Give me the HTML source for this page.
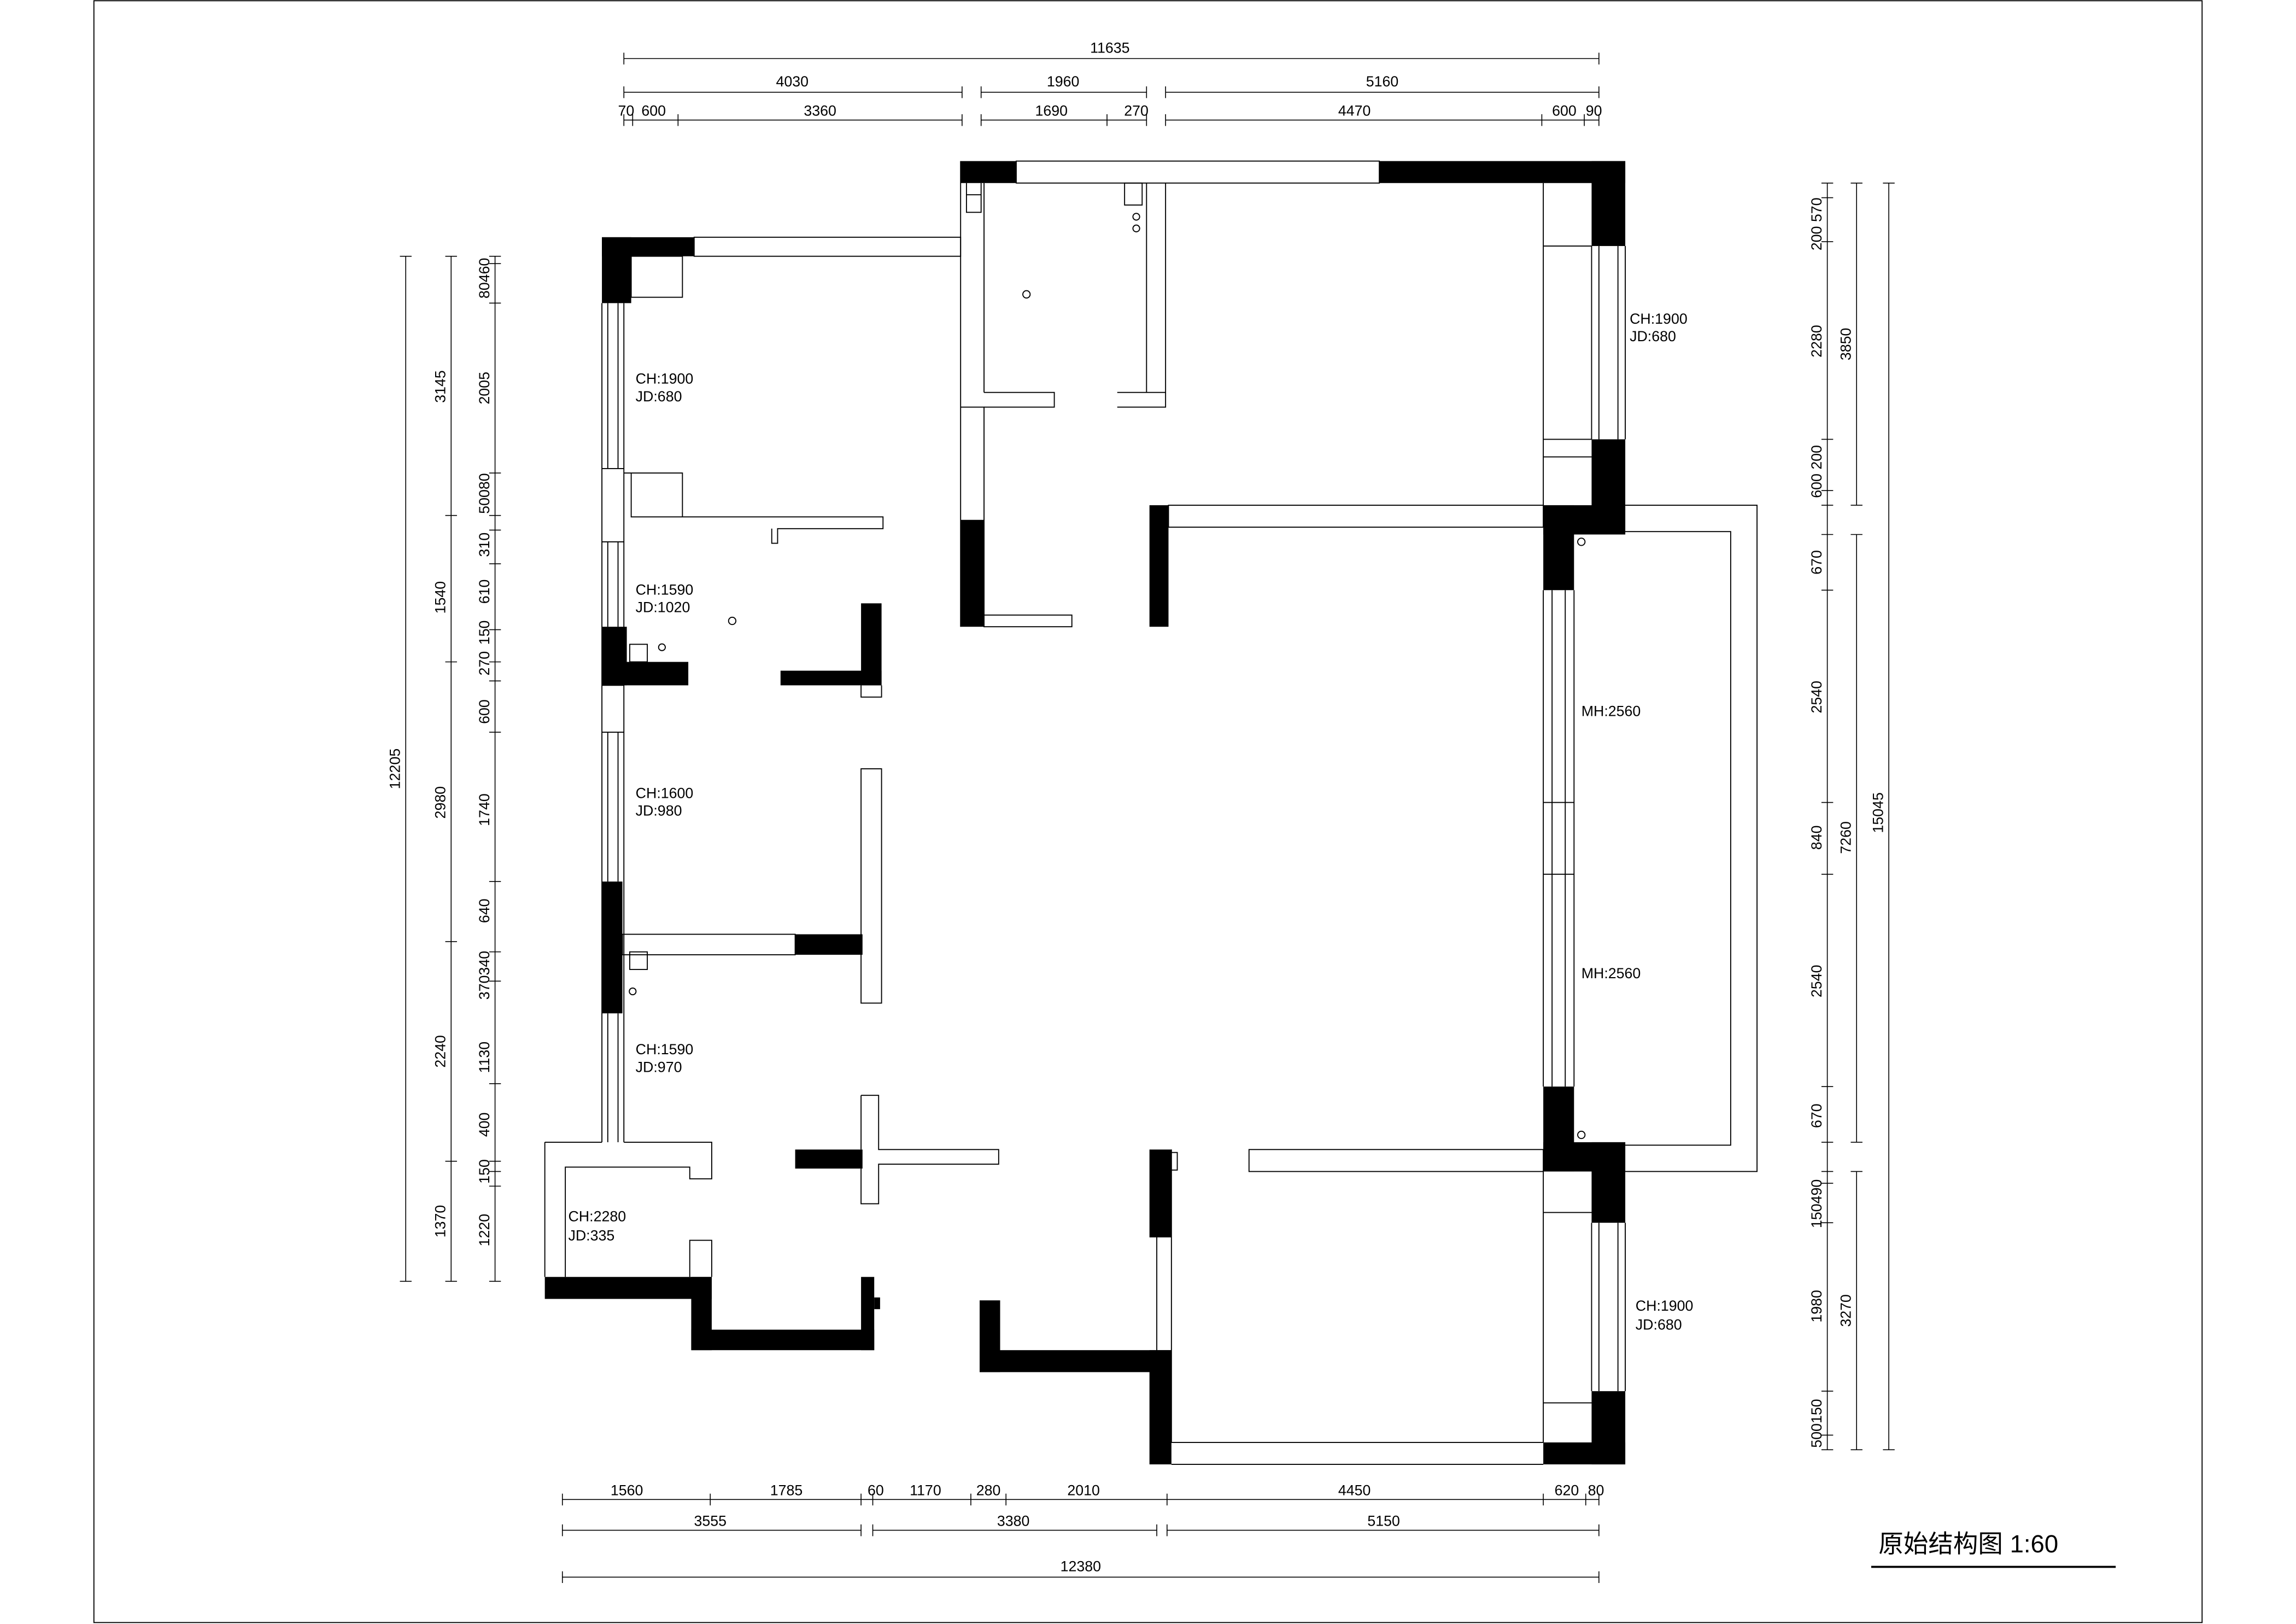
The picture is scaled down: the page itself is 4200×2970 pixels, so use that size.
<!DOCTYPE html>
<html><head><meta charset="utf-8"><style>
html,body{margin:0;padding:0;background:#fff;}
svg{display:block;}
text{font-family:"Liberation Sans","Noto Sans CJK SC",sans-serif;fill:#000;}
</style></head><body>
<svg width="4200" height="2970" viewBox="0 0 1568 1109" xmlns="http://www.w3.org/2000/svg">
<g fill="none" stroke="#000" stroke-width="0.7">
<rect x="64" y="0.5" width="1440" height="1107.5"/>
<line x1="1278" y1="1070" x2="1445" y2="1070" stroke-width="1.4"/>
</g>
<text x="1283" y="1060" font-size="17" font-family="Liberation Serif,Noto Serif CJK SC,serif">原始结构图  1:60</text>

<g stroke="#000" stroke-width="0.6" fill="none">
<line x1="426" y1="40" x2="1092" y2="40"/>
<line x1="426" y1="63" x2="657" y2="63"/><line x1="670" y1="63" x2="783" y2="63"/><line x1="796" y1="63" x2="1092" y2="63"/>
<line x1="426" y1="82" x2="657" y2="82"/><line x1="670" y1="82" x2="783" y2="82"/><line x1="796" y1="82" x2="1092" y2="82"/>
<path d="M426 36v8M1092 36v8M426 59v8M657 59v8M670 59v8M783 59v8M796 59v8M1092 59v8M426 78v8M432 78v8M463 78v8M657 78v8M670 78v8M756 78v8M783 78v8M796 78v8M1053 78v8M1082 78v8M1092 78v8"/>
<line x1="384" y1="1024" x2="1092" y2="1024"/>
<line x1="384" y1="1045" x2="588" y2="1045"/><line x1="596" y1="1045" x2="790" y2="1045"/><line x1="797" y1="1045" x2="1092" y2="1045"/>
<line x1="384" y1="1077" x2="1092" y2="1077"/>
<path d="M384 1020v8M485 1020v8M588 1020v8M596 1020v8M663 1020v8M687 1020v8M797 1020v8M1054 1020v8M1083 1020v8M1092 1020v8M384 1041v8M588 1041v8M596 1041v8M790 1041v8M797 1041v8M1092 1041v8M384 1073v8M1092 1073v8"/>
<line x1="277" y1="175" x2="277" y2="875"/>
<line x1="308" y1="175" x2="308" y2="875"/>
<line x1="338" y1="175" x2="338" y2="875"/>
<path d="M273 175h8M273 875h8M304 175h8M304 352h8M304 452h8M304 643h8M304 793h8M304 875h8M334 175h8M334 180h8M334 207h8M334 323h8M334 352h8M334 362h8M334 385h8M334 430h8M334 452h8M334 465h8M334 500h8M334 602h8M334 650h8M334 670h8M334 740h8M334 793h8M334 800h8M334 810h8M334 875h8"/>
<line x1="1248" y1="125" x2="1248" y2="990"/>
<line x1="1268" y1="125" x2="1268" y2="345"/><line x1="1268" y1="365" x2="1268" y2="780"/><line x1="1268" y1="800" x2="1268" y2="990"/>
<line x1="1290" y1="125" x2="1290" y2="990"/>
<path d="M1244 125h8M1244 135h8M1244 165h8M1244 300h8M1244 335h8M1244 345h8M1244 365h8M1244 403h8M1244 548h8M1244 597h8M1244 742h8M1244 780h8M1244 800h8M1244 808h8M1244 835h8M1244 950h8M1244 980h8M1244 990h8M1264 125h8M1264 345h8M1264 365h8M1264 780h8M1264 800h8M1264 990h8M1286 125h8M1286 990h8"/>
</g>
<g font-size="10">
<text x="758" y="36" text-anchor="middle">11635</text>
<text x="541" y="59" text-anchor="middle">4030</text><text x="726" y="59" text-anchor="middle">1960</text><text x="944" y="59" text-anchor="middle">5160</text>
<text x="422" y="79">70</text><text x="438" y="79">600</text><text x="560" y="79" text-anchor="middle">3360</text><text x="718" y="79" text-anchor="middle">1690</text><text x="776" y="79" text-anchor="middle">270</text><text x="925" y="79" text-anchor="middle">4470</text><text x="1060" y="79">600</text><text x="1083" y="79">90</text>
<text x="428" y="1021" text-anchor="middle">1560</text><text x="537" y="1021" text-anchor="middle">1785</text><text x="598" y="1021" text-anchor="middle">60</text><text x="632" y="1021" text-anchor="middle">1170</text><text x="675" y="1021" text-anchor="middle">280</text><text x="740" y="1021" text-anchor="middle">2010</text><text x="925" y="1021" text-anchor="middle">4450</text><text x="1070" y="1021" text-anchor="middle">620</text><text x="1090" y="1021" text-anchor="middle">80</text>
<text x="485" y="1042" text-anchor="middle">3555</text><text x="692" y="1042" text-anchor="middle">3380</text><text x="945" y="1042" text-anchor="middle">5150</text>
<text x="738" y="1073" text-anchor="middle">12380</text>
<g text-anchor="middle">
<text transform="translate(273,525) rotate(-90)">12205</text>
<text transform="translate(304,264) rotate(-90)">3145</text>
<text transform="translate(304,408) rotate(-90)">1540</text>
<text transform="translate(304,548) rotate(-90)">2980</text>
<text transform="translate(304,718) rotate(-90)">2240</text>
<text transform="translate(304,834) rotate(-90)">1370</text>
<text transform="translate(334,190) rotate(-90)">80460</text>
<text transform="translate(334,265) rotate(-90)">2005</text>
<text transform="translate(334,337) rotate(-90)">50080</text>
<text transform="translate(334,372) rotate(-90)">310</text>
<text transform="translate(334,404) rotate(-90)">610</text>
<text transform="translate(334,432) rotate(-90)">150</text>
<text transform="translate(334,453) rotate(-90)">270</text>
<text transform="translate(334,486) rotate(-90)">600</text>
<text transform="translate(334,553) rotate(-90)">1740</text>
<text transform="translate(334,622) rotate(-90)">640</text>
<text transform="translate(334,666) rotate(-90)">370340</text>
<text transform="translate(334,722) rotate(-90)">1130</text>
<text transform="translate(334,768) rotate(-90)">400</text>
<text transform="translate(334,800) rotate(-90)">150</text>
<text transform="translate(334,840) rotate(-90)">1220</text>
<text transform="translate(1244,153) rotate(-90)">200 570</text>
<text transform="translate(1244,233) rotate(-90)">2280</text>
<text transform="translate(1244,322) rotate(-90)">600 200</text>
<text transform="translate(1244,384) rotate(-90)">670</text>
<text transform="translate(1244,476) rotate(-90)">2540</text>
<text transform="translate(1244,572) rotate(-90)">840</text>
<text transform="translate(1244,670) rotate(-90)">2540</text>
<text transform="translate(1244,762) rotate(-90)">670</text>
<text transform="translate(1244,822) rotate(-90)">150490</text>
<text transform="translate(1244,892) rotate(-90)">1980</text>
<text transform="translate(1244,972) rotate(-90)">500150</text>
<text transform="translate(1264,235) rotate(-90)">3850</text>
<text transform="translate(1264,572) rotate(-90)">7260</text>
<text transform="translate(1264,895) rotate(-90)">3270</text>
<text transform="translate(1286,555) rotate(-90)">15045</text>
</g>
<text x="1113" y="221">CH:1900</text><text x="1113" y="233">JD:680</text>
<text x="434" y="262">CH:1900</text><text x="434" y="274">JD:680</text>
<text x="434" y="406">CH:1590</text><text x="434" y="418">JD:1020</text>
<text x="434" y="545">CH:1600</text><text x="434" y="557">JD:980</text>
<text x="434" y="720">CH:1590</text><text x="434" y="732">JD:970</text>
<text x="388" y="834">CH:2280</text><text x="388" y="847">JD:335</text>
<text x="1080" y="489">MH:2560</text><text x="1080" y="668">MH:2560</text>
<text x="1117" y="895">CH:1900</text><text x="1117" y="908">JD:680</text>
</g>

<g fill="none" stroke="#000" stroke-width="0.7">
<rect x="474" y="162" width="182" height="13"/>
<rect x="431" y="175" width="35" height="28"/>
<path d="M411 207V780M426 207V780M415 207V320M422 207V320M415 370V428M422 370V428M415 500V602M422 500V602M415 692V780M422 692V780"/>
<path d="M411 320h15M411 370h15M411 468h15M411 500h15"/>
<path d="M426 323h40v30h-35v-30M431 353h172v8h-72v10h-4v-10"/>
<path d="M372 780h39M426 780h60v25h-15v-8h-85v75M372 780v92"/>
<path d="M471 872v-25h15v25"/>
<rect x="425" y="638" width="118" height="14"/>
<rect x="588" y="525" width="14" height="160"/>
<path d="M588 468v8h14v-8"/>
<path d="M588 748h12v37h82v10h-82v27h-12v-24M588 748v37"/>
<rect x="694" y="110" width="248" height="15"/>
<path d="M656 110v318M672 125v143M656 278h16v150h60v-8h-60"/>
<path d="M672 268h48v10h-48M763 268h33v10h-33M783 125v143M796 125v153"/>
<path d="M660 125v20h10v-20M660 133h10"/>
<rect x="798" y="345" width="256" height="15"/>
<rect x="853" y="785" width="201" height="15"/>
<path d="M790 845v77M800 785v200h254M800 1000h254M800 787h4v12h-4"/>
<path d="M1054 125V345M1054 168h33M1054 300h33M1054 312h33M1087 168V300M1092 168V300M1105 168V300M1110 168V300"/>
<path d="M1110 345h90v455h-90M1110 363h72v419h-72"/>
<path d="M1054 403V742M1060 403V742M1069 403V742M1075 403V742M1054 548h21M1054 597h21"/>
<path d="M1054 800V985M1054 828h33M1054 958h33M1087 835V950M1092 835V950M1105 835V950M1110 835V950"/>
<path d="M430 440h12v12h-12zM430 650h12v12h-12zM768 125h12v15h-12z"/>
<circle cx="701" cy="201" r="2.5"/><circle cx="776" cy="148" r="2.3"/><circle cx="776" cy="156" r="2.3"/>
<circle cx="500" cy="424" r="2.5"/><circle cx="452" cy="442" r="2.3"/><circle cx="432" cy="677" r="2.3"/>
<circle cx="1080" cy="370" r="2.5"/><circle cx="1080" cy="775" r="2.5"/>
</g>

<g fill="#000">
<rect x="411" y="162" width="63" height="13"/><rect x="411" y="162" width="20" height="45"/>
<rect x="656" y="110" width="38" height="15"/><rect x="942" y="110" width="168" height="15"/><rect x="1087" y="110" width="23" height="58"/>
<rect x="1087" y="300" width="23" height="65"/><rect x="1054" y="345" width="56" height="20"/><rect x="1054" y="345" width="21" height="58"/>
<rect x="1054" y="742" width="21" height="58"/><rect x="1054" y="780" width="56" height="20"/><rect x="1087" y="780" width="23" height="55"/>
<rect x="1087" y="950" width="23" height="50"/><rect x="1054" y="985" width="56" height="15"/>
<rect x="785" y="922" width="15" height="78"/><rect x="669" y="922" width="131" height="15"/><rect x="669" y="888" width="14" height="49"/>
<rect x="785" y="785" width="15" height="60"/>
<rect x="372" y="872" width="114" height="15"/><rect x="472" y="872" width="14" height="50"/><rect x="472" y="908" width="125" height="14"/>
<rect x="588" y="872" width="9" height="50"/><rect x="597" y="886" width="4" height="8"/>
<rect x="411" y="428" width="17" height="40"/><rect x="411" y="452" width="59" height="16"/>
<rect x="533" y="458" width="69" height="10"/><rect x="588" y="412" width="14" height="56"/>
<rect x="411" y="602" width="14" height="90"/><rect x="543" y="638" width="46" height="14"/>
<rect x="543" y="785" width="46" height="13"/>
<rect x="656" y="355" width="16" height="73"/><rect x="785" y="345" width="13" height="83"/>
</g>
</svg>
</body></html>
